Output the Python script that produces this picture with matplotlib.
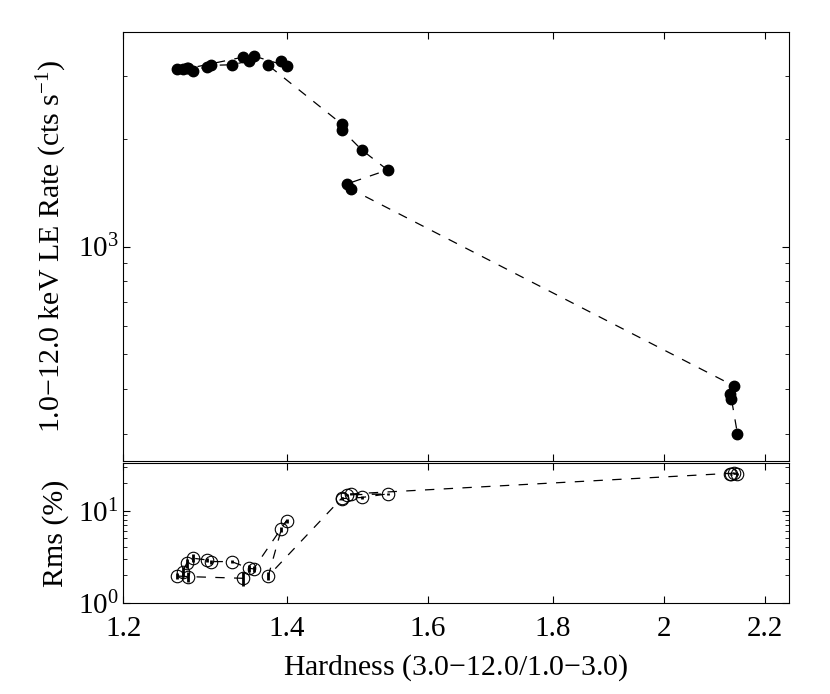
import numpy as np
import matplotlib
matplotlib.use("Agg")
import matplotlib.pyplot as plt
from matplotlib.ticker import LogLocator, FixedLocator, FixedFormatter, NullFormatter

# hardness ratio, LE count rate and rms, in time order
hardness = [1.344, 1.276, 1.262, 1.269, 1.274, 1.281, 1.298, 1.303, 1.329,
            1.351, 1.357, 1.400, 1.393, 1.376, 1.475, 1.475, 1.503, 1.540,
            1.482, 1.488, 2.137, 2.128, 2.131, 2.143]
rate = [3385, 3146, 3130, 3136, 3160, 3100, 3182, 3209, 3221,
        3300, 3409, 3196, 3309, 3209, 2198, 2118, 1862, 1637,
        1496, 1446, 407, 387, 375, 300]
rms = [1.84, 1.92, 1.95, 2.17, 2.69, 3.05, 2.92, 2.80, 2.80,
       2.37, 2.33, 7.84, 6.31, 1.95, 13.8, 13.6, 14.0, 15.3,
       14.95, 15.3, 25.8, 25.5, 25.0, 25.3]
rms_err = [0.33, 0.25, 0.15, 0.25, 0.30, 0.30, 0.15, 0.15, 0.12,
           0.20, 0.20, 0.40, 0.40, 0.20, 0.40, 0.40, 0.40, 0.40,
           0.40, 0.40, 0.50, 0.50, 0.50, 0.50]

xticks = [1.2, 1.4, 1.6, 1.8, 2.0, 2.2]
xticklabels = ['1.2', '1.4', '1.6', '1.8', '2', '2.2']

plt.rcParams['font.family'] = ['Liberation Serif', 'DejaVu Serif']
plt.rcParams['mathtext.fontset'] = 'custom'
plt.rcParams['mathtext.rm'] = 'Liberation Serif'
plt.rcParams['mathtext.it'] = 'Liberation Serif:italic'

fig = plt.figure(figsize=(8.3, 6.94), dpi=100)
ax1 = fig.add_axes([0.1487, 0.33617, 0.8019, 0.6173])
ax2 = fig.add_axes([0.1487, 0.13170, 0.8019, 0.20072])

dash = (0, (7.5, 7.5))

# top panel: count rate
ax1.plot(hardness, rate, color='k', lw=0.9, linestyle=dash)
ax1.plot(hardness, rate, 'o', color='k', ms=7.5, linestyle='none')

# bottom panel: rms
ax2.plot(hardness, rms, color='k', lw=0.9, linestyle=dash)
ax2.errorbar(hardness, rms, yerr=rms_err, fmt='none', ecolor='k', elinewidth=2)
ax2.plot(hardness, rms, 'o', mfc='none', mec='k', mew=0.8, ms=9, linestyle='none')

for ax in (ax1, ax2):
    ax.set_xscale('log')
    ax.set_yscale('log')
    ax.set_xlim(1.2, 2.25)
    ax.xaxis.set_major_locator(FixedLocator(xticks))
    ax.xaxis.set_minor_locator(FixedLocator([]))
    ax.xaxis.set_minor_formatter(NullFormatter())
    ax.yaxis.set_minor_locator(LogLocator(base=10, subs=np.arange(2, 10)))
    ax.yaxis.set_minor_formatter(NullFormatter())
    ax.tick_params(which='both', direction='in', top=True, right=True, labelsize=21)
    ax.tick_params(which='major', length=5, width=0.8)
    ax.tick_params(which='minor', length=3, width=0.6)
    ax.tick_params(axis='x', pad=10)
    for s in ax.spines.values():
        s.set_linewidth(0.8)

ax1.set_ylim(252, 3970)
ax1.yaxis.set_major_locator(FixedLocator([1000]))
ax1.yaxis.set_major_formatter(FixedFormatter([r'$\mathregular{10^{3}}$']))
ax1.xaxis.set_major_formatter(NullFormatter())
ax1.set_ylabel(r'1.0$-$12.0 keV LE Rate (cts s$\mathregular{^{-1}}$)', fontsize=21.5)
ax1.yaxis.set_label_coords(-0.082, 0.5)

ax2.set_ylim(1, 33)
ax2.yaxis.set_major_locator(FixedLocator([1, 10]))
ax2.yaxis.set_major_formatter(FixedFormatter([r'$\mathregular{10^{0}}$', r'$\mathregular{10^{1}}$']))
ax2.xaxis.set_major_formatter(FixedFormatter(xticklabels))
ax2.set_ylabel('Rms (%)', fontsize=21.5)
ax2.yaxis.set_label_coords(-0.082, 0.5)
ax2.set_xlabel(r'Hardness (3.0$-$12.0/1.0$-$3.0)', fontsize=21.5, labelpad=7)

fig.savefig('out.png', dpi=100)
